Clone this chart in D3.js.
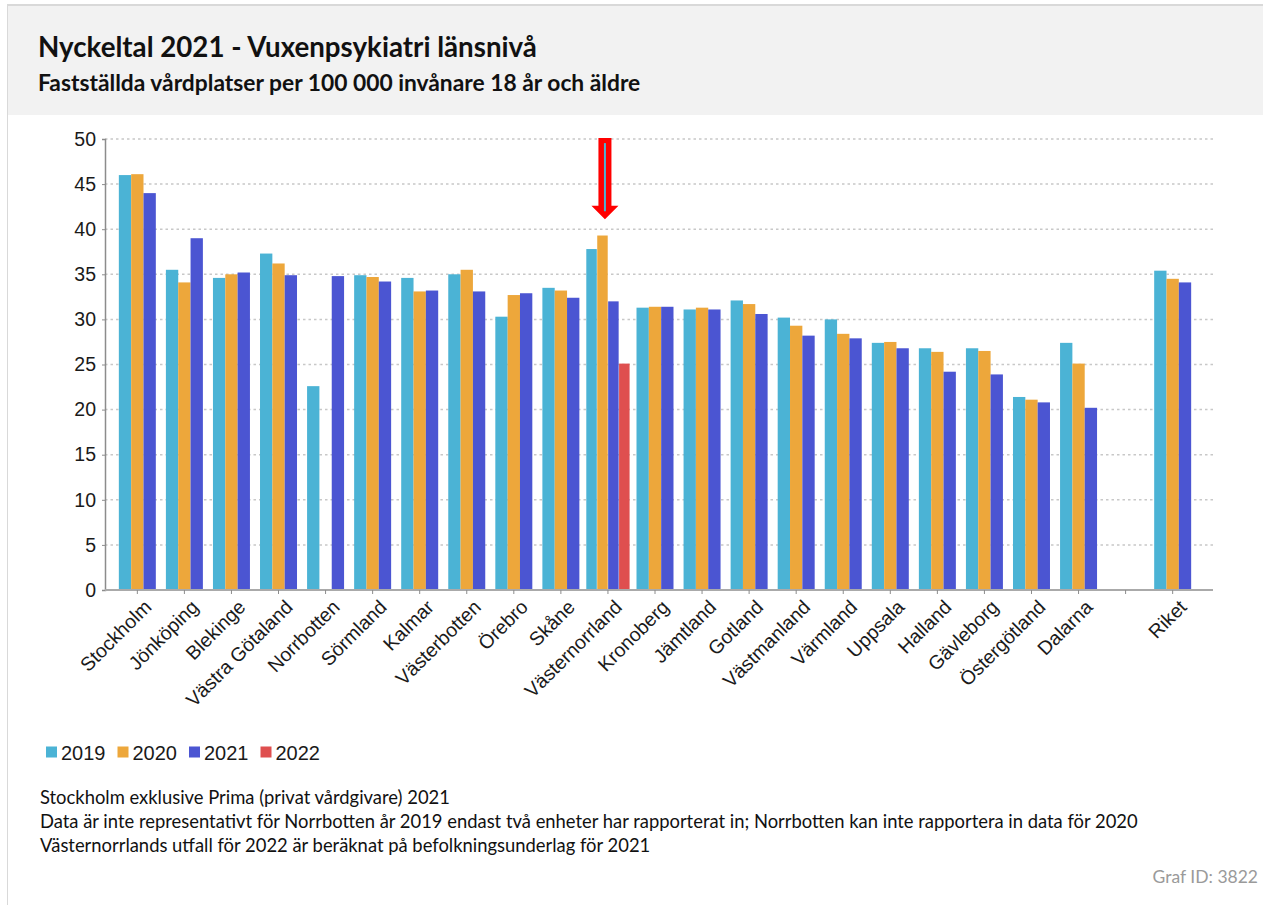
<!DOCTYPE html>
<html>
<head>
<meta charset="utf-8">
<script src="https://cdn.jsdelivr.net/npm/d3@7"></script>
<style>
  body { margin: 0; background: #fff; }
  svg { display: block; }
</style>
</head>
<body>
<svg width="1263" height="905"></svg>
<script>
// regions (tom plats mellan Dalarna och Riket)
var categories = ["Stockholm", "Jönköping", "Blekinge", "Västra Götaland", "Norrbotten", "Sörmland",
  "Kalmar", "Västerbotten", "Örebro", "Skåne", "Västernorrland", "Kronoberg", "Jämtland", "Gotland",
  "Västmanland", "Värmland", "Uppsala", "Halland", "Gävleborg", "Östergötland", "Dalarna", "", "Riket"];

var years = ["2019", "2020", "2021", "2022"];

var values2019 = [46.0, 35.5, 34.6, 37.3, 22.6, 34.9, 34.6, 35.0, 30.3, 33.5, 37.8, 31.3, 31.1, 32.1,
  30.2, 30.0, 27.4, 26.8, 26.8, 21.4, 27.4, null, 35.4];
var values2020 = [46.1, 34.1, 35.0, 36.2, 0, 34.7, 33.1, 35.5, 32.7, 33.2, 39.3, 31.4, 31.3, 31.7,
  29.3, 28.4, 27.5, 26.4, 26.5, 21.1, 25.1, null, 34.5];
var values2021 = [44.0, 39.0, 35.2, 34.9, 34.8, 34.2, 33.2, 33.1, 32.9, 32.4, 32.0, 31.4, 31.1, 30.6,
  28.2, 27.9, 26.8, 24.2, 23.9, 20.8, 20.2, null, 34.1];
var values2022 = [null, null, null, null, null, null, null, null, null, null, 25.1, null, null, null,
  null, null, null, null, null, null, null, null, null];

var yTicks = [0, 5, 10, 15, 20, 25, 30, 35, 40, 45, 50];

var footnotes = [
  "Stockholm exklusive Prima (privat vårdgivare) 2021",
  "Data är inte representativt för Norrbotten år 2019 endast två enheter har rapporterat in; Norrbotten kan inte rapportera in data för 2020",
  "Västernorrlands utfall för 2022 är beräknat på befolkningsunderlag för 2021"
];

var colors = { "2019": "#4bb3d5", "2020": "#eda73b", "2021": "#4b55d2", "2022": "#df4f4f" };

var series = { "2019": values2019, "2020": values2020, "2021": values2021, "2022": values2022 };

var svg = d3.select("svg");
var labelFont = "'Liberation Sans', Arial, sans-serif";
var textFont = "Lato, 'Open Sans', sans-serif";

// ram + rubrik
svg.append("rect").attr("x", 8).attr("y", 5).attr("width", 1255).attr("height", 110).attr("fill", "#f2f2f2");
svg.append("line").attr("x1", 7).attr("x2", 1263).attr("y1", 5).attr("y2", 5)
  .attr("stroke", "#d9d9d9").attr("stroke-width", 2);
svg.append("line").attr("x1", 7.5).attr("x2", 7.5).attr("y1", 4).attr("y2", 905)
  .attr("stroke", "#d9d9d9").attr("stroke-width", 1);

svg.append("text").attr("x", 38).attr("y", 57)
  .attr("font-family", textFont).attr("font-weight", "bold").attr("font-size", 27.7).attr("fill", "#111")
  .text("Nyckeltal 2021 - Vuxenpsykiatri länsnivå");
svg.append("text").attr("x", 38).attr("y", 91)
  .attr("font-family", textFont).attr("font-weight", "bold").attr("font-size", 22.8).attr("fill", "#111")
  .text("Fastställda vårdplatser per 100 000 invånare 18 år och äldre");

// skalor
var plotLeft = 105, plotRight = 1213, plotTop = 139, plotBottom = 590;

var x = d3.scaleBand().domain(categories).range([113.8, 1196.2]).paddingInner(0.214).paddingOuter(0.107);
var y = d3.scaleLinear().domain([0, 50]).range([plotBottom, plotTop]);

// grid
svg.append("g").selectAll("line").data(yTicks.filter(function(d) { return d > 0; }))
  .enter().append("line")
  .attr("x1", plotLeft).attr("x2", plotRight)
  .attr("y1", function(d) { return y(d); }).attr("y2", function(d) { return y(d); })
  .attr("stroke", "#c8c8c8").attr("stroke-width", 1.5).attr("stroke-dasharray", "2.5,3");

// y-axel
var yAxis = svg.append("g").attr("transform", "translate(" + plotLeft + ",0)")
  .call(d3.axisLeft(y).tickValues(yTicks).tickSize(3).tickPadding(6));
yAxis.select(".domain").attr("stroke", "#8c8c8c").attr("stroke-width", 1.5);
yAxis.selectAll(".tick line").attr("stroke", "#8c8c8c");
yAxis.selectAll("text").attr("font-family", labelFont).attr("font-size", 19.5).attr("fill", "#1a1a1a");

// staplar
var groups = svg.append("g").selectAll("g").data(categories)
  .enter().append("g")
  .attr("transform", function(d) { return "translate(" + (x(d) + x.bandwidth() / 2) + ",0)"; });

groups.each(function(cat, i) {
  var present = years.filter(function(yr) { return series[yr][i] !== null; });
  if (present.length === 0) return;
  var gw = x.bandwidth() * (present.length === 4 ? 1.17 : 1);
  var inner = d3.scaleBand().domain(present).range([-gw / 2, gw / 2])
    .paddingInner(present.length === 4 ? 0.04 : 0);
  d3.select(this).selectAll("rect").data(present)
    .enter().append("rect")
    .attr("x", function(yr) { return inner(yr); })
    .attr("width", inner.bandwidth())
    .attr("y", function(yr) { return y(series[yr][i]) - (series[yr][i] === 0 ? 1 : 0); })
    .attr("height", function(yr) { return plotBottom - y(series[yr][i]) + (series[yr][i] === 0 ? 1 : 0); })
    .attr("fill", function(yr) { return colors[yr]; });
});

// x-axel
var xAxis = svg.append("g").attr("transform", "translate(0," + plotBottom + ")")
  .call(d3.axisBottom(x).tickSize(4).tickSizeOuter(0));
xAxis.select(".domain").attr("d", "M" + plotLeft + ",0H" + plotRight).attr("stroke", "#aaaaaa").attr("stroke-width", 2);
xAxis.selectAll(".tick line").attr("stroke", "#8c8c8c");
xAxis.selectAll("text")
  .attr("font-family", labelFont).attr("font-size", 19.5).attr("fill", "#1a1a1a")
  .attr("text-anchor", "end")
  .attr("transform", "translate(0,3) rotate(-45)")
  .attr("dy", "0.75em").attr("dx", "0");

// pil vid Västernorrland
var ax = x("Västernorrland") + x.bandwidth() / 2 - 3;
var tipY = y(41.1), arrowTop = y(50.1), headY = y(42.6);
svg.append("path")
  .attr("d", "M" + (ax - 6.5) + "," + arrowTop + "H" + (ax + 6.5) + "V" + headY + "H" + (ax + 13.5) +
    "L" + ax + "," + tipY + "L" + (ax - 13.5) + "," + headY + "H" + (ax - 6.5) + "Z")
  .attr("fill", "#ff0000");
svg.append("line").attr("x1", ax).attr("x2", ax).attr("y1", arrowTop + 5).attr("y2", tipY - 8)
  .attr("stroke", colors["2019"]).attr("stroke-width", 2);

// legend
var legend = svg.append("g").attr("transform", "translate(46,752)");
var lx = 0;
years.forEach(function(yr) {
  legend.append("rect").attr("x", lx).attr("y", -5.5).attr("width", 11).attr("height", 11).attr("fill", colors[yr]);
  var t = legend.append("text").attr("x", lx + 15).attr("y", 7.5)
    .attr("font-family", labelFont).attr("font-size", 20).attr("fill", "#1a1a1a").text(yr);
  lx += 15 + t.node().getComputedTextLength() + 12;
});

// fotnoter
svg.append("g").selectAll("text").data(footnotes)
  .enter().append("text")
  .attr("x", 40).attr("y", function(d, i) { return 804 + i * 24; })
  .attr("font-family", textFont).attr("font-size", 18.4).attr("fill", "#111")
  .text(function(d) { return d; });

svg.append("text").attr("x", 1258).attr("y", 883).attr("text-anchor", "end")
  .attr("font-family", textFont).attr("font-size", 17.5).attr("fill", "#9a9a9a")
  .text("Graf ID: 3822");
</script>
</body>
</html>
